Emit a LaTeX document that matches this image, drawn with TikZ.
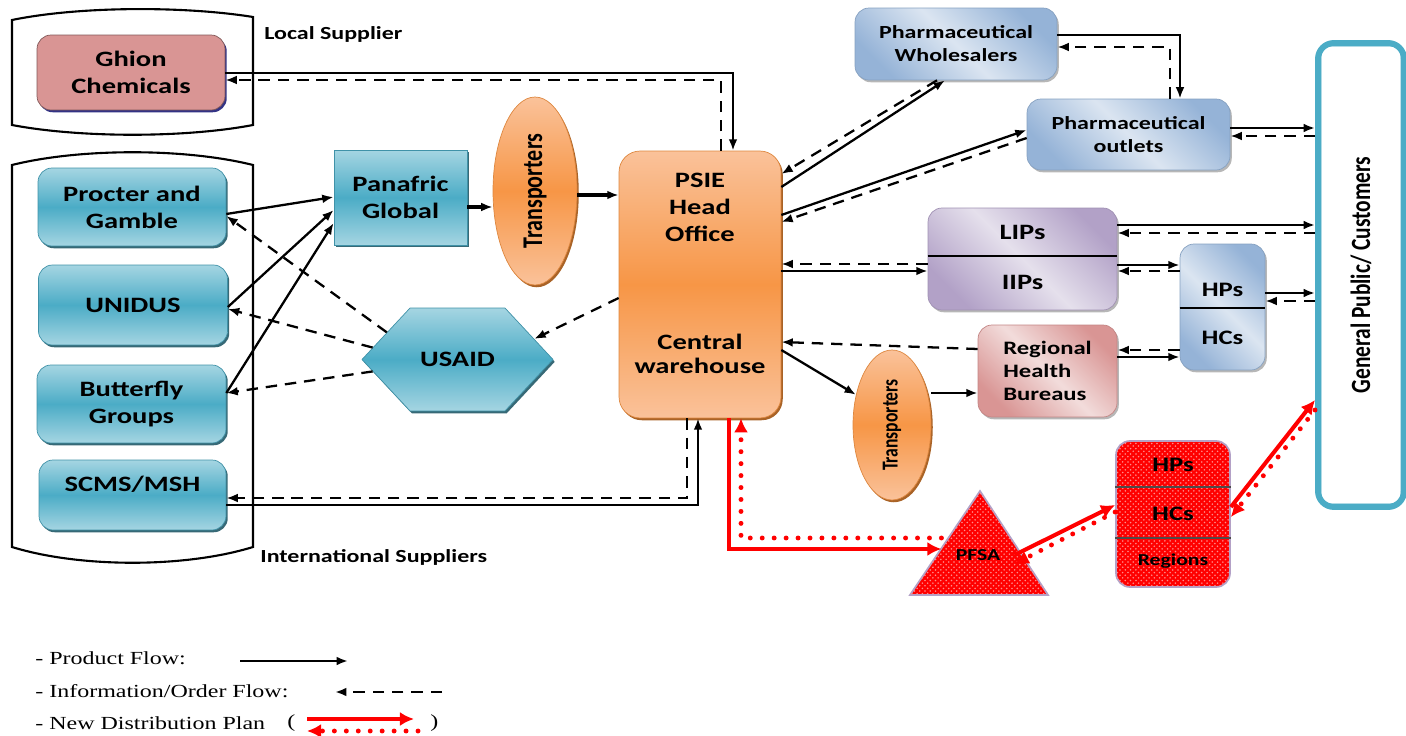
\documentclass[tikz,border=0pt]{standalone}
\usepackage{fontspec}
\setmainfont{Liberation Serif}[FakeStretch=1.3]
\setsansfont{Carlito}[FakeStretch=1.3]
\newfontfamily\upfont{Carlito}
\usetikzlibrary{arrows.meta,shapes.geometric,shapes.symbols,shadows,patterns}

\definecolor{tealmid}{HTML}{4BACC6}
\definecolor{teallight}{HTML}{A5D5E2}
\definecolor{tealdark}{HTML}{215967}
\definecolor{orgmid}{HTML}{F79646}
\definecolor{orglight}{HTML}{FAC29A}
\definecolor{orgdark}{HTML}{A0520F}
\definecolor{pinkmid}{HTML}{D99594}
\definecolor{pinklight}{HTML}{F2DCDB}
\definecolor{bluemid}{HTML}{95B3D7}
\definecolor{bluelight}{HTML}{DBE5F1}
\definecolor{purmid}{HTML}{B2A1C7}
\definecolor{purlight}{HTML}{E5E0EC}

\tikzset{
  box/.style={align=center, inner sep=2pt, font=\sffamily\bfseries\fontsize{12.5}{15.3}\selectfont},
  grouplabel/.style={font=\sffamily\bfseries\fontsize{10.5}{12}\selectfont, inner sep=0pt},
  tealbox/.style={box, rounded corners=8pt, draw=tealmid!85!black, top color=teallight,
    bottom color=teallight, middle color=tealmid,
    drop shadow={shadow xshift=1pt, shadow yshift=-1.3pt, fill=tealdark, opacity=.9}},
  orgshape/.style={box, draw=orgmid!90!black, top color=orglight, bottom color=orglight,
    middle color=orgmid, drop shadow={shadow xshift=1pt, shadow yshift=-1.3pt, fill=orgdark, opacity=.9}},
  diagbox/.style 2 args={box, rounded corners=8pt, draw=#1!90!black, top color=#1,
    bottom color=#1, middle color=#2, shading angle=-45,
    drop shadow={shadow xshift=1pt, shadow yshift=-1.3pt, fill=black!40, opacity=.7}},
  smallfont/.style={font=\sffamily\bfseries\fontsize{10.5}{13}\selectfont},
  redfill/.style={draw=purmid, line width=1pt, fill=red,
    postaction={pattern=crosshatch dots, pattern color=white!55!red}},
  prod/.style={->, line width=1.3pt},
  info/.style={->, line width=1.3pt, dash pattern=on 6.5pt off 4.5pt},
  newplan/.style={-{Latex[length=8pt,width=8pt]}, red, line width=2.3pt},
  newinfo/.style={-{Latex[length=8pt,width=8pt]}, red, line width=2.8pt, line cap=round,
    dash pattern=on 0pt off 6.8pt},
}

\begin{document}
\begin{tikzpicture}[x=0.02cm,y=-0.02cm,>={Latex[length=6.5pt,width=5pt]}]
\useasboundingbox (0,0) rectangle (1406,736);

% supplier groups
\draw[line width=1.2pt] (12,20) .. controls (80,6) and (185,6) .. (253,17) -- (253,125)
  .. controls (185,138) and (80,138) .. (12,125) -- cycle;
\draw[line width=1.2pt] (12,165) .. controls (80,148) and (185,148) .. (253,165) -- (253,547)
  .. controls (185,568) and (80,568) .. (12,547) -- cycle;
\node[grouplabel, anchor=west] (locallbl) at (264,34) {Local Supplier};
\node[grouplabel, anchor=west] (intllbl) at (260,557) {International Suppliers};

\node[box, rounded corners=8pt, draw=pinkmid!60!black, fill=pinkmid,
  drop shadow={shadow xshift=1pt, shadow yshift=-1.3pt, fill=black!60!blue, opacity=.8},
  minimum width=3.76cm, minimum height=1.5cm] (ghion) at (131,72.5) {Ghion\\Chemicals};
\node[tealbox, minimum width=3.76cm, minimum height=1.56cm] (procter) at (132,207) {Procter and\\Gamble};
\node[tealbox, minimum width=3.78cm, minimum height=1.6cm] (unidus) at (133,305) {UNIDUS};
\node[tealbox, minimum width=3.78cm, minimum height=1.56cm] (butterfly) at (131.5,404) {Butterfly\\Groups};
\node[tealbox, minimum width=3.74cm, minimum height=1.4cm, text depth=13pt] (scms) at (132.5,495) {SCMS/MSH};

\node[tealbox, rounded corners=0pt, minimum width=2.66cm, minimum height=1.9cm] (panafric) at (400.5,197.5) {Panafric\\Global};
\node[tealbox, rounded corners=0pt, signal, signal to=west and east, signal pointer angle=94,
  minimum width=3.82cm, minimum height=2.06cm] (usaid) at (457.5,359.5) {USAID};
\node[orgshape, ellipse, minimum width=1.68cm, minimum height=3.76cm] (trans1) at (535,191)
  {\rotatebox{90}{\scalebox{1}[1.3]{\upfont\bfseries\fontsize{12.5}{14}\selectfont Transporters}}};

% PSIE
\node[orgshape, rounded corners=12pt, minimum width=3.24cm, minimum height=5.34cm] (psie) at (700,284.5) {};
\node[box] (psietop) at (700,207) {PSIE\\Head\\Office};
\node[box, font=\sffamily\bfseries\fontsize{12.5}{13.6}\selectfont] (psiebot) at (700,354) {Central\\warehouse};
\node[orgshape, ellipse, minimum width=1.56cm, minimum height=3cm] (trans2) at (892,425)
  {\rotatebox{90}{\scalebox{1}[1.3]{\upfont\bfseries\fontsize{10}{12}\selectfont Transporters}}};

% distributors
\node[diagbox={bluemid}{bluelight}, smallfont, minimum width=4.04cm, minimum height=1.44cm] (wholes) at (956,44) {Pharmaceutical\\Wholesalers};
\node[diagbox={bluemid}{bluelight}, smallfont, minimum width=4.06cm, minimum height=1.42cm] (outlets) at (1128.5,134.5) {Pharmaceutical\\outlets};
\node[diagbox={purmid}{purlight}, minimum width=3.78cm, minimum height=2.04cm] (lips) at (1022.5,259) {};
\draw[line width=.6pt] (lips.west |- 0,256) -- (lips.east |- 0,256);
\node[box] (liptxt) at (1022.5,232) {LIPs};
\node[box] (iiptxt) at (1022.5,282) {IIPs};
\node[diagbox={bluemid}{bluelight}, minimum width=1.7cm, minimum height=2.52cm] (hps) at (1222.5,307) {};
\draw[line width=.6pt] (hps.west |- 0,308) -- (hps.east |- 0,308);
\node[box, font=\sffamily\bfseries\fontsize{11.7}{14}\selectfont] (hptxt) at (1222.5,290) {HPs};
\node[box, font=\sffamily\bfseries\fontsize{11.7}{14}\selectfont] (hctxt) at (1222.5,338) {HCs};
\node[diagbox={pinkmid}{pinklight}, align=left, font=\sffamily\bfseries\fontsize{10.8}{13}\selectfont,
  minimum width=2.78cm, minimum height=1.84cm] (rhb) at (1047.5,371) {Regional\\Health\\Bureaus};

% customers
\node[draw=tealmid, line width=3.4pt, rounded corners=9pt, fill=white, minimum width=1.72cm, minimum height=9.28cm] (gp) at (1361,275)
  {\rotatebox{90}{\scalebox{1}[1.3]{\upfont\bfseries\fontsize{12.2}{14}\selectfont General Public/ Customers}}};
\draw[tealmid, line width=.8pt, rounded corners=6pt] ([shift={(3.2pt,-3.2pt)}]gp.north west) rectangle ([shift={(-3.2pt,3.2pt)}]gp.south east);

% new plan
\draw[redfill] (980,491) -- (1048,595) -- (910,595) -- cycle;
\node[box, inner xsep=8pt, font=\sffamily\bfseries\fontsize{9.5}{11}\selectfont] (pfsa) at (978,555) {PFSA};
\node[redfill, rounded corners=8pt, minimum width=2.28cm, minimum height=2.92cm] (redbox) at (1173,514) {};
\draw[line width=.8pt, black!70] (redbox.west |- 0,487) -- (redbox.east |- 0,487);
\draw[line width=.8pt, black!70] (redbox.west |- 0,538) -- (redbox.east |- 0,538);
\node[box, font=\sffamily\bfseries\fontsize{11.7}{14}\selectfont] (rhp) at (1173,465) {HPs};
\node[box, font=\sffamily\bfseries\fontsize{11.7}{14}\selectfont] (rhc) at (1173,514) {HCs};
\node[box, font=\sffamily\bfseries\fontsize{9.5}{11}\selectfont] (rreg) at (1173,561) {Regions};

% suppliers -> PSIE
\draw[prod] (ghion.east |- 0,73) -- (733,73) -- (psie.north -| 733,0);
\draw[info] (psie.north -| 721,0) -- (721,80) -- (ghion.east |- 0,80);
\foreach \s/\ya/\yb in {procter/214/197, unidus/307/210, butterfly/393/223}
  \draw[prod] (\s.east |- 0,\ya) -- (panafric.west |- 0,\yb);
\foreach \s/\a/\y in {procter/159/216, unidus/172/309, butterfly/188/393}
  \draw[info] (usaid.\a) -- (\s.east |- 0,\y);
\draw[info] (psie.west |- 0,298) -- (usaid.15);
\draw[->, line width=2.3pt] (panafric.east |- 0,207) -- (trans1.west |- 0,207);
\draw[->, line width=2.3pt] (trans1.east |- 0,195) -- (psie.west |- 0,195);
\draw[prod] (scms.east |- 0,505) -- (698,505) -- (psie.south -| 698,0);
\draw[info] (psie.south -| 687,0) -- (687,498) -- (scms.east |- 0,498);

% PSIE -> distributors
\draw[prod] (psie.east |- 0,187) -- (wholes.south -| 945,0);
\draw[info] (wholes.south -| 937,0) -- (psie.east |- 0,174);
\draw[prod] (psie.east |- 0,215) -- (outlets.west |- 0,130);
\draw[info] (outlets.west |- 0,138) -- (psie.east |- 0,222);
\draw[prod] (wholes.east |- 0,35) -- (1180,35) -- (outlets.north -| 1180,0);
\draw[info] (outlets.north -| 1170,0) -- (1170,47) -- (wholes.east |- 0,47);
\draw[info] (lips.west |- 0,264) -- (psie.east |- 0,264);
\draw[prod] (psie.east |- 0,271) -- (lips.west |- 0,271);
\draw[info] (rhb.west |- 0,349) -- (psie.east |- 0,342);
\draw[prod] (psie.east |- 0,350) -- (trans2.140);
\draw[prod] (trans2.east |- 0,393) -- (rhb.west |- 0,393);
\draw[prod] (lips.east |- 0,265) -- (hps.west |- 0,265);
\draw[info] (hps.west |- 0,271) -- (lips.east |- 0,271);
\draw[info] (hps.west |- 0,350) -- (rhb.east |- 0,350);
\draw[prod] (rhb.east |- 0,357) -- (hps.west |- 0,357);

% distributors -> customers
\foreach \s/\y in {outlets/128, lips/225, hps/293}{
  \draw[prod] (\s.east |- 0,\y) -- (gp.west |- 0,\y);
  \draw[info] (gp.west |- 0,\y+8) -- (\s.east |- 0,\y+8);
}

% new distribution plan
\draw[newplan] (psie.south -| 729,0) -- (729,549) -- (pfsa.west |- 0,549);
\draw[newinfo] (pfsa.west |- 0,538) -- (741,538) -- (psie.south -| 741,0);
\draw[newplan] (pfsa.east) -- (redbox.west |- 0,505);
\draw[newinfo] (redbox.west |- 0,512) -- (pfsa.east |- 0,564);
\draw[newplan] (redbox.east |- 0,507) -- (gp.west |- 0,400);
\draw[newinfo] (gp.west |- 0,410) -- (redbox.east |- 0,517);

% legend
\node[anchor=west, inner sep=0pt, font=\fontsize{10.5}{12}\selectfont] (lgprod) at (35,658) {- Product Flow:};
\node[anchor=west, inner sep=0pt, font=\fontsize{10.5}{12}\selectfont] (lginfo) at (35,691) {- Information/Order Flow:};
\node[anchor=west, inner sep=0pt, font=\fontsize{10.5}{12}\selectfont] (lgplan) at (35,723) {- New Distribution Plan};
\node[anchor=west, inner sep=0pt, font=\fontsize{10.5}{12}\selectfont] (lgopen) at (287,723) {(};
\node[anchor=west, inner sep=0pt, font=\fontsize{10.5}{12}\selectfont] (lgclose) at (430,723) {)};
\coordinate (p1) at (240,661); \coordinate (p2) at (348,661);
\coordinate (i1) at (442,692); \coordinate (i2) at (335,692);
\coordinate (n1) at (307,719); \coordinate (n2) at (414,719);
\coordinate (n3) at (418,731); \coordinate (n4) at (307,731);
\draw[prod] (p1) -- (p2);
\draw[info] (i1) -- (i2);
\draw[newplan] (n1) -- (n2);
\draw[newinfo] (n3) -- (n4);
\end{tikzpicture}
\end{document}
